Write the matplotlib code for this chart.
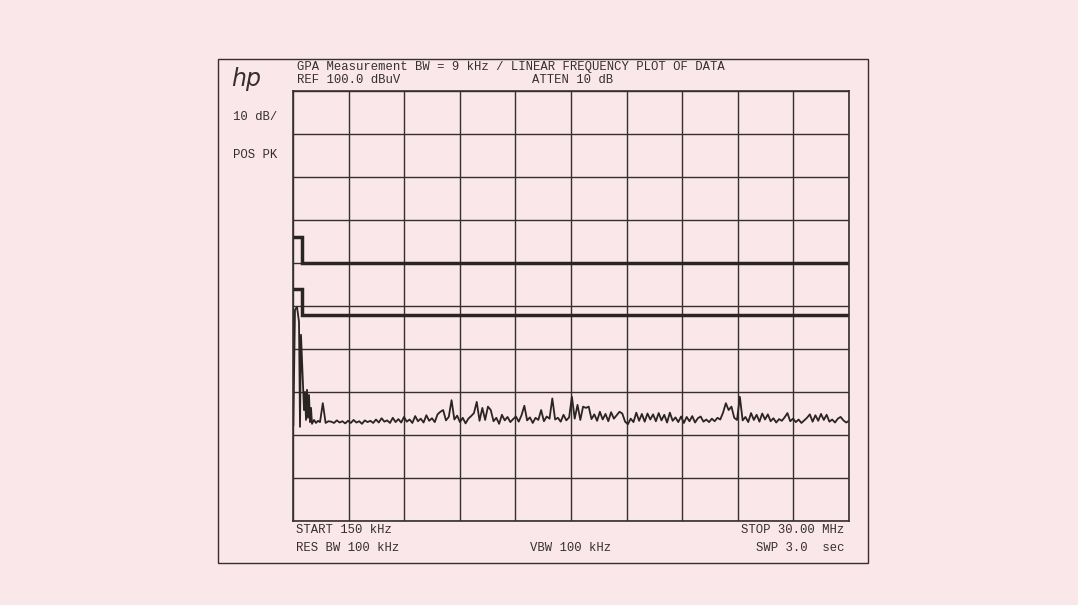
import numpy as np
import matplotlib
matplotlib.use("Agg")
import matplotlib.pyplot as plt
from matplotlib.patches import Rectangle

# ---------------- data ----------------
f_start, f_stop = 0.15, 30.0          # MHz
ref_level, db_per_div = 100.0, 10.0   # dBuV

# limit lines (MHz, dBuV)
limit1_freq = [0.15, 0.65, 0.65, 30.0]
limit1_level = [66, 66, 60, 60]
limit2_freq = [0.15, 0.65, 0.65, 30.0]
limit2_level = [54, 54, 48, 48]

# start of trace (low-frequency region)
trace_start_freq = [0.168, 0.257, 0.365, 0.472, 0.526, 0.579, 0.633, 0.687,
                    0.741, 0.794, 0.848, 0.902, 0.955, 1.009, 1.063, 1.117,
                    1.170, 1.278, 1.385, 1.492]
trace_start_level = [22.3, 49.1, 49.8, 46.3, 21.9, 43.3, 37.4, 31.6,
                     25.8, 30.0, 23.5, 30.5, 24.0, 29.3, 23.0, 26.3,
                     22.6, 23.5, 22.8, 23.3]

# noise floor region, sweep points from 1.6 MHz to 30 MHz
noise_level = [
    23.0, 27.4, 22.8, 23.2, 23.1, 22.8, 23.4, 22.9, 23.2, 22.7,
    23.3, 22.8, 23.5, 22.9, 23.2, 22.6, 23.4, 23.0, 23.3, 22.8,
    23.6, 22.9, 23.9, 23.1, 23.4, 22.8, 24.0, 23.0, 23.7, 22.9,
    24.2, 23.1, 23.6, 22.8, 24.4, 23.2, 23.8, 22.9, 24.6, 23.3,
    23.9, 23.0, 24.8, 25.4, 25.8, 23.4, 24.2, 28.1, 23.6, 24.5,
    23.0, 24.0, 22.7, 23.8, 24.4, 25.1, 27.7, 23.3, 26.3, 23.5,
    26.6, 25.8, 23.2, 24.0, 22.6, 24.7, 23.4, 24.2, 23.0, 23.7,
    24.3, 23.1, 24.6, 26.8, 23.4, 24.1, 22.8, 24.0, 23.5, 25.8,
    23.2, 24.3, 23.8, 28.5, 23.6, 24.0, 23.1, 24.7, 23.4, 24.1,
    28.9, 23.8, 27.0, 23.5, 26.6, 26.3, 26.6, 23.7, 24.8, 23.3,
    25.4, 23.6, 24.9, 23.2, 25.3, 23.8, 24.6, 25.4, 25.0, 23.1,
    22.5, 23.8, 23.0, 25.2, 23.3, 24.9, 23.1, 25.0, 23.6, 24.8,
    23.2, 25.1, 23.4, 24.7, 22.9, 25.2, 23.3, 24.1, 23.0, 24.3,
    22.8, 24.2, 23.2, 24.4, 22.9, 23.9, 24.3, 23.1, 23.6, 23.0,
    23.8, 23.2, 24.0, 23.6, 25.2, 27.4, 25.8, 26.6, 24.0, 23.5,
    28.9, 23.4, 24.2, 23.0, 25.1, 23.5, 24.7, 23.1, 25.0, 23.6,
    24.8, 23.2, 23.9, 22.9, 23.7, 23.3, 24.1, 25.1, 23.2, 23.8,
    23.0, 23.6, 22.8, 23.4, 24.0, 24.8, 23.1, 24.6, 23.3, 24.9,
    23.5, 24.7, 23.1, 23.6, 22.9, 23.8, 24.2, 23.4, 22.9, 23.3,
]
noise_freq = np.linspace(1.6, 30.0, len(noise_level))

# ---------------- style ----------------
W, H = 1078, 605
bg = "#f9e7ea"
ink = "#352f30"
mono = ["Liberation Mono", "DejaVu Sans Mono"]

fig = plt.figure(figsize=(W / 100, H / 100), dpi=100, facecolor=bg)

def fx(px):
    return px / W

def fy(py):
    return 1 - py / H

# outer panel border
fig.patches.append(Rectangle((fx(218), fy(563)), fx(868) - fx(218), fy(59) - fy(563),
                             transform=fig.transFigure, fill=False,
                             edgecolor=ink, linewidth=1.0))

ax = fig.add_axes([fx(293), fy(521), fx(849) - fx(293), fy(91) - fy(521)])
ax.set_facecolor(bg)
ax.set_xlim(f_start, f_stop)
ax.set_ylim(ref_level - 10 * db_per_div, ref_level)
ax.set_xticks(np.linspace(f_start, f_stop, 11))
ax.set_yticks(np.arange(0, 101, 10))
ax.tick_params(length=0, labelbottom=False, labelleft=False)
ax.grid(True, color=ink, linewidth=1.0)
for s in ax.spines.values():
    s.set_color(ink)
    s.set_linewidth(1.2)

ax.plot(limit1_freq, limit1_level, color="#2a2425", linewidth=2.5, solid_joinstyle="miter")
ax.plot(limit2_freq, limit2_level, color="#2a2425", linewidth=2.5, solid_joinstyle="miter")

trace_f = list(trace_start_freq) + list(noise_freq)
trace_l = list(trace_start_level) + list(noise_level)
ax.plot(trace_f, trace_l, color="#2a2425", linewidth=1.3)

# ---------------- texts ----------------
def txt(px, py, s, ha="left", **kw):
    kw.setdefault("family", mono)
    kw.setdefault("fontsize", 8.8)
    fig.text(fx(px), fy(py), s, ha=ha, va="center", color=ink, **kw)

txt(297, 67, "GPA Measurement BW = 9 kHz / LINEAR FREQUENCY PLOT OF DATA")
txt(297, 80, "REF 100.0 dBuV")
txt(532, 80, "ATTEN 10 dB")
txt(231, 79, "hp", family=["DejaVu Sans"], fontsize=17, style="italic")
txt(233, 117, "10 dB/")
txt(233, 155, "POS PK")
txt(296, 530, "START 150 kHz")
txt(296, 548, "RES BW 100 kHz")
txt(530, 548, "VBW 100 kHz")
txt(844, 530, "STOP 30.00 MHz", ha="right")
txt(844, 548, "SWP 3.0  sec", ha="right")

fig.savefig("out.png", dpi=100, facecolor=bg)
